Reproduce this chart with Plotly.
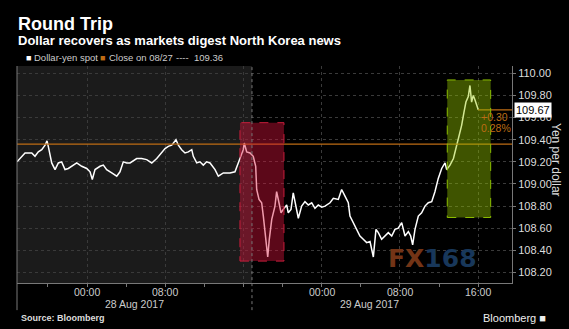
import plotly.graph_objects as go

# ---- data (hours since 28 Aug 2017 00:00, USD/JPY) ----
hours = [-7.16, -6.34, -5.65, -5.32, -4.98, -4.63, -4.29, -4.09, -3.96, -3.61, -3.27, -2.93, -2.59, -2.25,
         -1.91, -1.40, -1.05, -0.54, -0.03, 0.31, 0.54, 0.82, 1.33, 1.67, 2.01, 2.53, 3.04, 3.37, 3.71, 4.06,
         4.40, 5.08, 5.59, 6.10, 6.62, 7.13, 7.64, 7.98, 8.31, 8.66, 9.10, 9.34, 9.68, 10.02, 10.36, 10.71,
         10.87, 11.22, 11.55, 11.89, 12.24, 12.58, 13.09, 13.43, 13.94, 14.62, 15.13, 15.47,
         15.64, 15.98, 16.08, 16.33, 16.67, 17.00, 17.25, 17.35, 17.59, 17.86, 18.03, 18.20, 18.37, 18.48,
         18.64, 18.89, 19.22, 19.39, 19.63, 19.84, 20.07, 20.42, 20.58, 20.86, 21.09, 21.27, 21.61, 21.95,
         22.29, 22.63, 22.98, 23.31, 23.65,
         24.00, 24.34, 24.85, 25.19, 25.70, 26.04, 26.38, 26.72, 26.89, 27.23, 27.57, 27.91, 28.25, 28.60,
         28.94, 29.28, 29.55, 29.79, 30.13, 30.47, 30.81, 31.16, 31.49, 31.83, 32.18, 32.52, 32.86, 33.10,
         33.30, 33.54, 33.88, 34.22, 34.56, 34.90,
         35.25, 35.58, 35.92, 36.27, 36.61, 36.78, 37.12, 37.47, 37.80, 38.07, 38.31, 38.55, 38.75, 38.99,
         39.16, 39.33, 39.50, 39.67, 39.85, 40.01]
price = [109.20, 109.28, 109.28, 109.25, 109.29, 109.31, 109.35, 109.39, 109.34, 109.19, 109.13, 109.19, 109.20, 109.13,
         109.14, 109.17, 109.19, 109.16, 109.14, 109.11, 109.04, 109.13, 109.16, 109.17, 109.13, 109.10, 109.07, 109.11, 109.20, 109.19,
         109.19, 109.23, 109.23, 109.22, 109.19, 109.23, 109.28, 109.32, 109.34, 109.35, 109.40, 109.35, 109.31, 109.28, 109.29, 109.31,
         109.25, 109.19, 109.20, 109.17, 109.20, 109.19, 109.13, 109.07, 109.10, 109.10, 109.11, 109.19,
         109.22, 109.31, 109.37, 109.29, 109.28, 109.25, 109.16, 108.95, 108.86, 108.83, 108.71, 108.56, 108.44, 108.34,
         108.50, 108.68, 108.80, 108.93, 108.83, 108.74, 108.77, 108.81, 108.74, 108.77, 108.92, 108.83, 108.69, 108.80,
         108.84, 108.81, 108.83, 108.78, 108.81,
         108.79, 108.80, 108.83, 108.87, 108.86, 108.95, 108.89, 108.83, 108.71, 108.65, 108.59, 108.53, 108.50, 108.47,
         108.48, 108.34, 108.59, 108.56, 108.50, 108.53, 108.56, 108.53, 108.59, 108.60, 108.65, 108.53, 108.57, 108.53,
         108.45, 108.59, 108.71, 108.74, 108.80, 108.83,
         108.84, 108.93, 109.05, 109.14, 109.19, 109.13, 109.17, 109.23, 109.35, 109.44, 109.53, 109.65, 109.74, 109.79,
         109.89, 109.74, 109.80, 109.76, 109.70, 109.67]

close_prev = 109.36
last_price = 109.67
change_txt = "+0.30"
change_pct = "0.28%"

x_tick_vals = [0, 8, 16, 24, 32, 40]
x_tick_text = ["00:00", "08:00", "", "00:00", "08:00", "16:00"]
y_ticks = [108.2, 108.4, 108.6, 108.8, 109.0, 109.2, 109.4, 109.6, 109.8, 110.0]
day_labels = ["28 Aug 2017", "29 Aug 2017"]

day_break = 16.87
red_box = dict(x0=15.64, x1=20.14, y0=108.303, y1=109.554)
green_box = dict(x0=36.84, x1=41.28, y0=108.697, y1=109.94)
x_range = [-7.16, 43.46]
y_range = [108.105, 110.066]

# ---- layout helpers (pixel -> paper) ----
L, R, T, B = 17, 512, 66, 283
def xp(px):
    return (px - L) / (R - L)
def yp(py):
    return (B - py) / (B - T)
def hx(h):
    return L + (h - x_range[0]) / (x_range[1] - x_range[0]) * (R - L)

fig = go.Figure()
fig.add_trace(go.Scatter(x=hours, y=price, mode="lines",
                         line=dict(color="white", width=1.5), hoverinfo="skip"))

orange = "rgb(190,108,20)"
gray_line = "rgb(120,120,120)"
shapes = [
    dict(type="rect", xref="x", yref="paper", x0=x_range[0], x1=day_break, y0=0, y1=1,
         fillcolor="#1b1b1b", line=dict(width=0), layer="below"),
    dict(type="line", xref="x", yref="y", x0=x_range[0], x1=x_range[1], y0=close_prev, y1=close_prev,
         line=dict(color=orange, width=1.3)),
    dict(type="line", xref="x", yref="y", x0=hours[-1], x1=x_range[1], y0=last_price, y1=last_price,
         line=dict(color=orange, width=1.2)),
    dict(type="rect", xref="x", yref="y", **red_box, fillcolor="rgba(220,20,60,0.42)",
         line=dict(color="rgb(200,30,60)", width=1, dash="dash"), layer="above"),
    dict(type="rect", xref="x", yref="y", **green_box, fillcolor="rgba(150,200,0,0.42)",
         line=dict(color="rgb(140,190,0)", width=1, dash="dash"), layer="above"),
    dict(type="line", xref="x", yref="paper", x0=day_break, x1=day_break, y0=-0.125, y1=1,
         line=dict(color=gray_line, width=1, dash="dot")),
    dict(type="line", xref="paper", yref="paper", x0=0, x1=0, y0=-0.125, y1=1,
         line=dict(color=gray_line, width=1)),
]

ann = []
def txt(text, x, y, size, color="white", xanchor="left", bold=False, family="Liberation Sans, Arial", **kw):
    t = f"<b>{text}</b>" if bold else text
    ann.append(dict(text=t, xref="paper", yref="paper", x=xp(x), y=yp(y), xanchor=xanchor,
                    yanchor="middle", showarrow=False, font=dict(size=size, color=color, family=family), **kw))

txt("Round Trip", 16, 24, 18, bold=True)
txt("Dollar recovers as markets digest North Korea news", 16, 41, 13, bold=True)
txt("\u25a0", 24, 58, 9, color="white")
txt("Dollar-yen spot", 32, 58, 9.5, color="#cccccc")
txt("\u25a0", 98, 58, 9, color=orange)
txt("Close on 08/27", 107, 58, 9.5, color="#cccccc")
txt("----  109.36", 174, 58, 9.5, color="#cccccc")
txt(change_txt, 479, 117, 10.5, color=orange)
txt(change_pct, 479, 128, 10.5, color=orange)
txt(f"{last_price:.2f}", 514, 110, 11, color="black", bgcolor="white", borderpad=1)
txt("Yen per dollar", 556, 160, 12, color="#dddddd", xanchor="center", textangle=90)
for v, t in zip(x_tick_vals, x_tick_text):
    if t:
        txt(t, hx(v), 292, 10.5, color="#cccccc", xanchor="center")
txt(day_labels[0], 134, 304, 10.5, color="#cccccc", xanchor="center")
txt(day_labels[1], 369, 304, 10.5, color="#cccccc", xanchor="center")
txt("Source: Bloomberg", 19, 318, 9, color="#dddddd", bold=True)
txt("Bloomberg \u25a0", 548, 318, 11, color="#eeeeee", xanchor="right")
ann.append(dict(text="<b><span style='color:rgb(115,52,22)'>FX</span><span style='color:rgb(24,55,90)'>168</span></b>",
                xref="paper", yref="paper", x=xp(432), y=yp(258), xanchor="center", yanchor="middle",
                showarrow=False, font=dict(size=25, family="DejaVu Sans")))

fig.update_layout(
    width=569, height=329, margin=dict(l=L, r=569 - R, t=T, b=329 - B),
    paper_bgcolor="black", plot_bgcolor="black", showlegend=False,
    shapes=shapes, annotations=ann,
    font=dict(family="Liberation Sans, Arial", color="#cccccc"),
    xaxis=dict(range=x_range, tickvals=x_tick_vals, ticktext=[""] * len(x_tick_vals), showgrid=True,
               gridcolor="#3a3a3a", griddash="dot", gridwidth=1, zeroline=False,
               showline=True, linecolor=gray_line, linewidth=1, ticks="outside", ticklen=4,
               tickcolor=gray_line, showticklabels=False,
               minor=dict(dtick=4, tick0=0, ticks="outside", ticklen=3, tickcolor=gray_line, showgrid=False)),
    yaxis=dict(range=y_range, side="right", tickvals=y_ticks, tickformat=".2f", showgrid=True,
               gridcolor="#3a3a3a", griddash="dot", gridwidth=1, zeroline=False,
               showline=True, linecolor=gray_line, linewidth=1, ticks="outside", ticklen=3,
               tickcolor=gray_line, tickfont=dict(size=11, color="#dddddd")),
)

fig.write_html("out.html")
